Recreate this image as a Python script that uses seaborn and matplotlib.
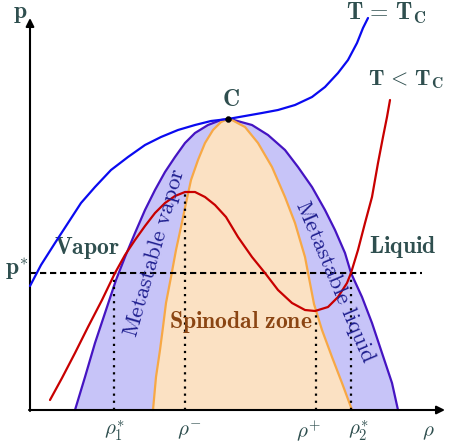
import matplotlib
matplotlib.use("Agg")
import matplotlib.pyplot as plt
import seaborn as sns
import pandas as pd

# ---- data (density rho, pressure p), arbitrary units ----
binodal_rho = [45, 55, 65, 75, 86, 95, 105, 115, 125, 135, 145, 155, 165, 178, 191, 198,
               202, 222, 238, 255, 268, 282, 295, 305, 315, 321, 332, 342, 352, 362, 368]
binodal_p   = [0, 33, 67, 97, 130, 153, 177, 200, 220, 238, 253, 267, 277, 285, 290, 291,
               290.5, 285, 275, 260, 243, 223, 200, 180, 157, 137, 113, 87, 57, 27, 0]

spinodal_rho = [123, 126, 130, 133, 136, 141, 146, 151, 156, 161, 168, 175, 183, 191, 198,
                202, 215, 228, 242, 255, 265, 275, 284, 292, 302, 312, 322]
spinodal_p   = [0, 33, 60, 83, 107, 133, 160, 183, 207, 230, 250, 267, 280, 288, 291,
                290, 283, 267, 243, 213, 187, 153, 106, 80, 53, 27, 0]

iso_tc_rho = [0, 11, 25, 38, 51, 65, 81, 98, 115, 131, 148, 165, 181, 198,
              215, 232, 248, 265, 282, 295, 308, 318, 327, 333, 338]
iso_tc_p   = [124, 145, 167, 187, 207, 223, 240, 253, 265, 273, 280, 285, 289, 291,
              294, 297, 300, 305, 313, 323, 337, 350, 367, 382, 392]

iso_low_rho = [20, 32, 45, 58, 72, 85, 95, 105, 115, 125, 135, 145, 155, 165, 175, 185, 196,
               208, 222, 235, 248, 262, 275, 285, 298, 308, 317, 321, 328, 335, 342, 348, 353, 357, 360]
iso_low_p   = [10, 32, 57, 83, 110, 137, 155, 170, 184, 197, 207, 214, 218, 218, 213, 205, 193,
               173, 153, 137, 120, 107, 100, 99, 103, 113, 127, 137, 160, 187, 213, 247, 273, 293, 310]

critical_rho, critical_p = [198], [291]
p_star = 137
rho_marks = [84, 155, 286, 321]          # rho1*, rho-, rho+, rho2*
rho_mark_top = [137, 218, 99, 137]
rho_labels = [r"$\rho_{\mathbf{1}}^{*}$", r"$\rho^{-}$", r"$\rho^{+}$", r"$\rho_{\mathbf{2}}^{*}$"]
rho_label_x = [84, 159, 278, 328]

plt.rcParams["mathtext.fontset"] = "cm"
sns.set_style("white")

fig = plt.figure(figsize=(4.49, 4.48), dpi=100)
ax = fig.add_axes([0, 0, 1, 1])
ax.set_xlim(-30, 419)
ax.set_ylim(-38, 410)
ax.axis("off")

# fills
ax.fill(binodal_rho, binodal_p, color="#c7c4f8", lw=0, zorder=1)
ax.fill(spinodal_rho, spinodal_p, color="#fbe1c3", lw=0, zorder=2)

bdf = pd.DataFrame({"rho": binodal_rho, "p": binodal_p})
sdf = pd.DataFrame({"rho": spinodal_rho, "p": spinodal_p})
sns.lineplot(data=bdf, x="rho", y="p", sort=False, estimator=None, color="#4514c2", lw=1.6, ax=ax, zorder=3)
sns.lineplot(data=sdf, x="rho", y="p", sort=False, estimator=None, color="#f7a845", lw=1.6, ax=ax, zorder=3)

# dotted verticals
for xm, top in zip(rho_marks, rho_mark_top):
    ax.plot([xm, xm], [0, top], color="black", lw=1.6, ls=(0, (1, 2.2)), zorder=4)

# dashed p*
ax.plot([0, 392], [p_star, p_star], color="black", lw=1.5, ls=(0, (3, 1.8)), zorder=4)

# isotherms
sns.lineplot(x=iso_tc_rho, y=iso_tc_p, sort=False, estimator=None, color="#0a0af0", lw=1.6, ax=ax, zorder=5)
sns.lineplot(x=iso_low_rho, y=iso_low_p, sort=False, estimator=None, color="#c80000", lw=1.6, ax=ax, zorder=5)
sns.scatterplot(x=critical_rho, y=critical_p, color="black", s=18, ax=ax, zorder=6, edgecolor="black")

# axes arrows
ax.annotate("", xy=(415, 0), xytext=(-1, 0),
            arrowprops=dict(arrowstyle="-|>", lw=1.5, color="black", mutation_scale=12, shrinkA=0, shrinkB=0))
ax.annotate("", xy=(0, 392), xytext=(0, -1),
            arrowprops=dict(arrowstyle="-|>", lw=1.5, color="black", mutation_scale=12, shrinkA=0, shrinkB=0))

tc = "#2f4f4f"
fs = 17
ax.text(-10, 397, r"$\mathbf{p}$", color=tc, fontsize=fs, ha="center", va="center")
ax.text(-13, 141, r"$\mathbf{p^{*}}$", color=tc, fontsize=fs, ha="center", va="center")
ax.text(57, 162, r"$\mathbf{Vapor}$", color=tc, fontsize=fs, ha="center", va="center")
ax.text(373, 163, r"$\mathbf{Liquid}$", color=tc, fontsize=fs, ha="center", va="center")
ax.text(201, 311, r"$\mathbf{C}$", color=tc, fontsize=fs, ha="center", va="center")
ax.text(356, 397, r"$\mathbf{T}\,=\,\mathbf{T_C}$", color=tc, fontsize=fs, ha="center", va="center")
ax.text(376, 330, r"$\mathbf{T}\,<\,\mathbf{T_C}$", color=tc, fontsize=16, ha="center", va="center")
ax.text(211, 88, r"$\mathbf{Spinodal\ zone}$", color="#8b4513", fontsize=fs, ha="center", va="center", zorder=7)
ax.text(125, 157, r"$\mathrm{Metastable\ vapor}$", color="#1f1f8f", fontsize=16.5, ha="center", va="center",
        rotation=74, rotation_mode="anchor", zorder=7)
ax.text(305, 128, r"$\mathrm{Metastable\ liquid}$", color="#1f1f8f", fontsize=16.5, ha="center", va="center",
        rotation=-67, rotation_mode="anchor", zorder=7)

for lx, lab in zip(rho_label_x, rho_labels):
    ax.text(lx, -21, lab, color=tc, fontsize=15, ha="center", va="center")
ax.text(398, -22, r"$\rho$", color=tc, fontsize=15, ha="center", va="center")

fig.savefig("out.png", dpi=100)
